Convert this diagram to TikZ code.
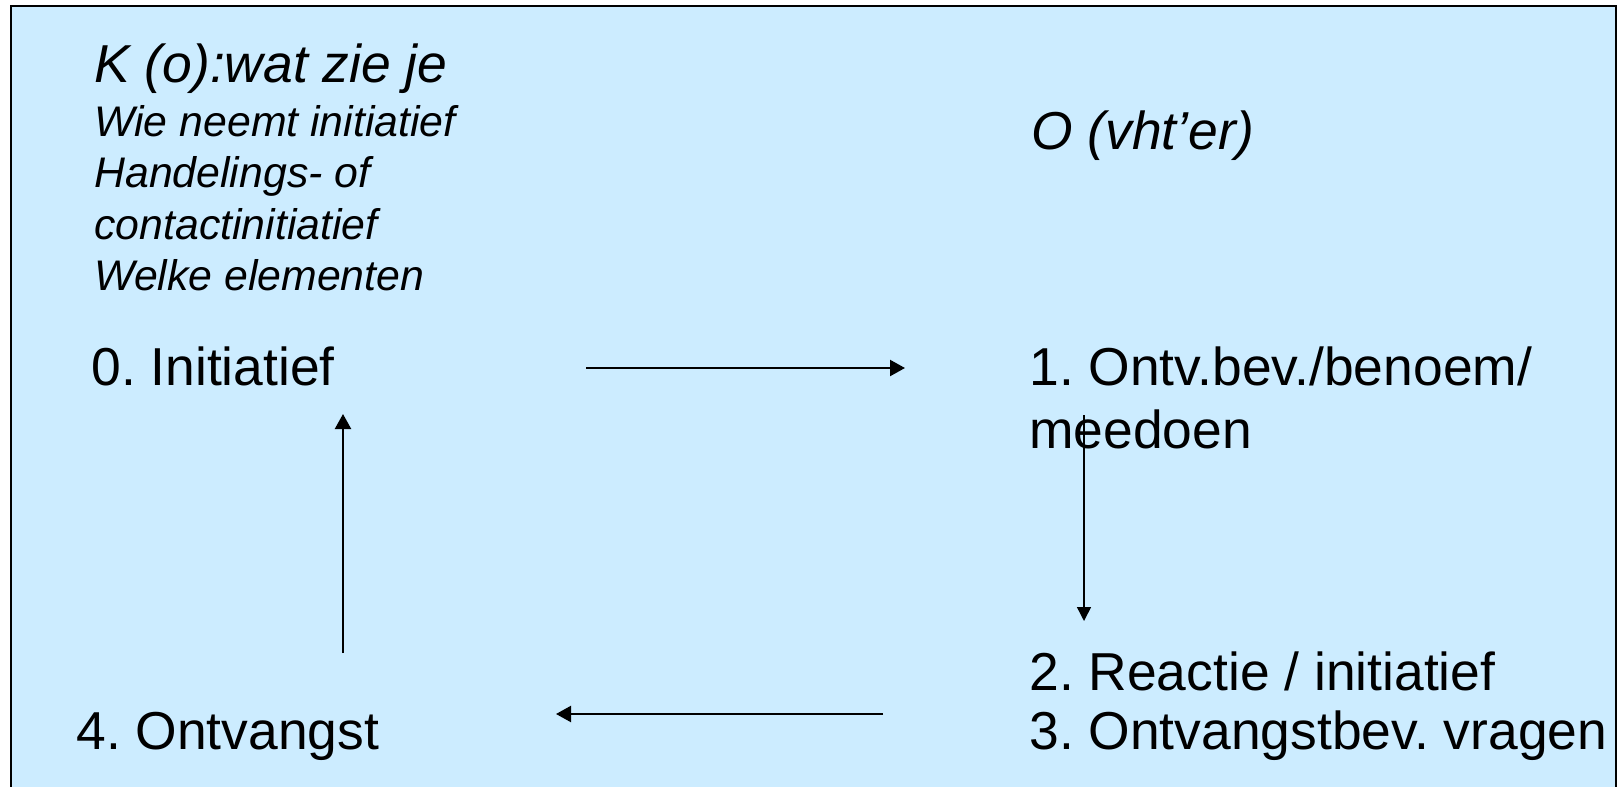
\documentclass[tikz,border=0pt]{standalone}
\usepackage{fontspec}
\setmainfont{Liberation Sans}
\usetikzlibrary{arrows.meta}
\definecolor{bgblue}{HTML}{CCECFF}
\frenchspacing
\tikzset{
  lbl/.style={anchor=base west, inner sep=0pt, font=\fontsize{26.7pt}{31pt}\selectfont},
  ilbl/.style={lbl, font=\fontsize{26.7pt}{31pt}\selectfont\itshape},
  slbl/.style={anchor=base west, inner sep=0pt, font=\fontsize{21.4pt}{26pt}\selectfont\itshape},
  arr/.style={line width=1.1pt, -{Triangle[length=7.5pt,width=8pt]}},
  thinarr/.style={line width=0.75pt, -{Triangle[length=7pt,width=7pt]}}
}
\begin{document}
\begin{tikzpicture}[x=0.5pt,y=-0.5pt]
\useasboundingbox (0,0) rectangle (1620,786);
\fill[bgblue] (11,6) rectangle (1616,790);
\draw[line width=0.6pt] (11,790) -- (11,6) -- (1616,6) -- (1616,790);
% header texts
\node[ilbl] (k) at (94,83) {K (o):wat zie je};
\node[slbl] (q1) at (94,137) {Wie neemt initiatief};
\node[slbl] (q2) at (94,188) {Handelings- of};
\node[slbl] (q3) at (94,240) {contactinitiatief};
\node[slbl] (q4) at (94,290) {Welke elementen};
\node[ilbl] (o) at (1031,150) {O (vht’er)};
% main labels
\node[lbl] (n0) at (91,385) {0. Initiatief};
\node[lbl] (n1) at (1029,385) {1. Ontv.bev./benoem/};
\node[lbl] (n1b) at (1029,448) {meedoen};
\node[lbl] (n2) at (1029,690) {2. Reactie / initiatief};
\node[lbl] (n3) at (1029,749) {3. Ontvangstbev. vragen};
\node[lbl] (n4) at (76,749) {4. Ontvangst};
% connector end points
\coordinate (a1s) at (586,368);
\coordinate (a1e) at (905,368);
\coordinate (a2s) at (1084,415);
\coordinate (a2e) at (1084,621);
\coordinate (a3s) at (883,714);
\coordinate (a3e) at (556,714);
\coordinate (a4s) at (343,653);
\coordinate (a4e) at (343,414);
\draw[arr] (a1s) -- (a1e);
\draw[thinarr] (a2s) -- (a2e);
\draw[arr] (a3s) -- (a3e);
\draw[arr] (a4s) -- (a4e);
\end{tikzpicture}
\end{document}
